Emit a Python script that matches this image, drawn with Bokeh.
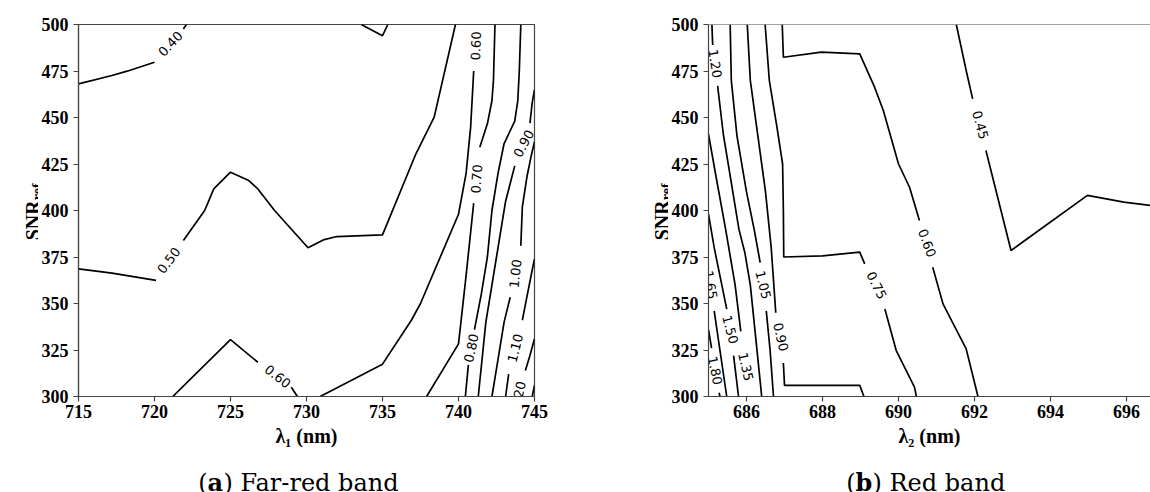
import math
from bokeh.plotting import figure
from bokeh.models import Span, ColumnDataSource, FixedTicker
from bokeh.layouts import row, column
from bokeh.embed import file_html
from bokeh.resources import INLINE
from bokeh.core.properties import value

# ---------------- (a) Far-red band : contour pieces (data units) ----------------
far_x_ticks = [715, 720, 725, 730, 735, 740, 745]
snr_ticks = [300, 325, 350, 375, 400, 425, 450, 475, 500]

far_piece_x = [
    [715.0, 717.2, 718.2, 720.0],
    [721.9, 722.1],
    [733.6, 735.0, 735.35],
    [715.0, 717.2, 720.1],
    [721.9, 723.3, 723.9, 725.0, 726.2, 726.8, 727.9, 730.1, 731.1, 732.0, 735.0, 737.2, 738.4, 739.8],
    [721.2, 725.0, 726.8],
    [729.0, 729.4],
    [730.9, 735.0, 736.9, 737.5, 740.0, 740.5, 740.8, 741.0],
    [737.9, 740.0, 740.5, 741.0],
    [741.4, 741.9, 742.2, 742.3, 742.4],
    [740.45, 740.65],
    [741.05, 741.5, 741.9, 742.2, 742.6, 743.0, 743.7, 743.9, 744.0, 744.1],
    [741.3, 741.8, 742.5, 743.1, 743.7],
    [744.7, 744.85, 745.0],
    [742.2, 742.6, 743.0, 743.4],
    [744.1, 744.2, 744.5, 744.8, 745.0],
    [743.1, 743.3],
    [744.2, 744.5, 744.8, 745.0],
    [744.4, 744.7, 745.0],
    [744.85, 745.0],
]
far_piece_y = [
    [468.1, 472.6, 474.9, 479.7],
    [497.6, 500.0],
    [500.0, 494.0, 500.0],
    [368.6, 366.3, 362.4],
    [383.9, 400.0, 411.6, 420.6, 416.1, 411.6, 400.0, 380.0, 384.2, 386.0, 386.9, 430.5, 450.2, 500.0],
    [300.0, 330.6, 318.4],
    [305.0, 300.0],
    [300.0, 317.4, 341.0, 350.0, 398.0, 420.0, 445.0, 475.0],
    [300.0, 328.3, 365.0, 404.0],
    [434.0, 446.6, 459.0, 470.0, 500.0],
    [300.0, 317.0],
    [336.0, 355.0, 375.0, 400.0, 420.0, 436.0, 448.0, 459.0, 475.0, 500.0],
    [300.0, 340.0, 375.0, 405.0, 424.0],
    [447.0, 458.0, 465.0],
    [300.0, 320.0, 340.0, 353.4],
    [381.0, 402.0, 418.0, 430.0, 437.0],
    [300.0, 312.0],
    [341.0, 353.6, 366.0, 374.0],
    [314.0, 322.0, 331.0],
    [300.0, 306.0],
]
far_label_text = ["0.40", "0.50", "0.60", "0.60", "0.70", "0.80", "0.90", "1.00", "1.10", "1.20"]
far_label_x = [721.05, 720.95, 728.1, 741.15, 741.2, 740.85, 744.3, 743.75, 743.75, 743.95]
far_label_y = [489.6, 373.1, 310.7, 488.5, 417.0, 326.0, 436.0, 366.0, 326.0, 300.5]
far_label_deg = [47, 53, -38, 88, 86, 78, 62, 84, 76, 78]

# ---------------- (b) Red band ----------------
red_x_ticks = [686, 688, 690, 692, 694, 696]

red_piece_x = [
    [685.0, 685.08],
    [685.28, 685.3],
    [685.15, 685.3, 685.48],
    [685.0, 685.15, 685.35, 685.48],
    [685.66, 685.79],
    [685.0, 685.2, 685.45, 685.7, 685.85],
    [685.09, 685.11],
    [685.24, 685.39, 685.6, 685.8, 685.96, 686.1, 686.25, 686.40],
    [685.57, 685.6, 685.75, 686.0, 686.2, 686.36],
    [686.52, 686.62, 686.71],
    [686.02, 686.1, 686.3, 686.5, 686.65, 686.77],
    [686.97, 687.0, 688.98, 689.09],
    [686.49, 686.6, 686.8, 686.95, 686.97, 686.98, 688.0, 688.98, 689.11],
    [689.64, 689.94, 690.42, 690.47],
    [686.94, 686.97, 687.97, 688.98, 689.37, 689.6, 690.0, 690.29, 690.55],
    [690.9, 691.17, 691.78, 692.09],
    [691.52, 691.78, 691.95],
    [692.3, 692.96, 694.97, 695.93, 696.64],
]
red_piece_y = [
    [336.0, 326.0],
    [302.0, 300.0],
    [346.0, 325.0, 300.0],
    [398.0, 380.0, 360.0, 347.0],
    [322.0, 300.0],
    [441.0, 418.0, 390.0, 360.0, 335.0],
    [500.0, 489.0],
    [467.0, 441.0, 415.0, 390.0, 377.0, 360.0, 330.0, 300.0],
    [500.0, 470.0, 440.0, 410.0, 390.0, 372.0],
    [346.0, 325.0, 300.0],
    [500.0, 470.0, 440.0, 410.0, 380.0, 345.0],
    [318.0, 306.0, 306.0, 300.0],
    [500.0, 470.0, 445.0, 425.0, 400.0, 375.0, 375.6, 377.6, 371.3],
    [347.0, 324.7, 305.0, 300.0],
    [500.0, 482.4, 485.1, 484.2, 466.3, 453.8, 425.0, 412.5, 394.6],
    [369.5, 349.8, 325.6, 300.0],
    [500.0, 475.3, 460.0],
    [432.3, 378.5, 408.1, 404.5, 402.7],
]
red_label_text = ["1.80", "1.65", "1.50", "1.35", "1.20", "1.05", "0.90", "0.75", "0.60", "0.45"]
red_label_x = [685.17, 685.05, 685.57, 685.98, 685.17, 686.44, 686.9, 689.42, 690.75, 692.15]
red_label_y = [314.0, 360.0, 336.0, 316.0, 479.0, 360.0, 332.0, 359.7, 382.5, 446.0]
red_label_deg = [-78, -80, -75, -77, -81, -76, -77, -63, -70, -74]

AXIS_COLOR = "#444444"
SERIF = "Liberation Serif"
CAP_FONT = "DejaVu Serif"
H_TOP = 454
BORDER_TOP, BORDER_BOTTOM = 24, 58


def style_axes(p, xticks, xlabel):
    p.xgrid.visible = False
    p.ygrid.visible = False
    p.xaxis.ticker = FixedTicker(ticks=xticks)
    p.yaxis.ticker = FixedTicker(ticks=snr_ticks)
    for ax in (p.xaxis[0], p.yaxis[0]):
        ax.axis_line_color = AXIS_COLOR
        ax.axis_line_width = 1.2
        ax.major_tick_line_color = AXIS_COLOR
        ax.major_tick_line_width = 1.2
        ax.major_tick_out = 5
        ax.major_tick_in = 0
        ax.minor_tick_line_color = None
        ax.major_label_text_font = SERIF
        ax.major_label_text_font_style = "bold"
        ax.major_label_text_font_size = "18px"
        ax.major_label_text_color = "black"
    p.xaxis.major_label_standoff = 3
    p.yaxis.major_label_standoff = 5
    p.xaxis.axis_label = xlabel
    p.xaxis.axis_label_text_font = SERIF
    p.xaxis.axis_label_text_font_style = "bold"
    p.xaxis.axis_label_text_font_size = "20px"
    p.xaxis.axis_label_text_color = "black"
    p.xaxis.axis_label_standoff = 4


def draw_contours(p, px, py, lt, lx, ly, ldeg):
    p.multi_line(xs=px, ys=py, line_color="black", line_width=1.7)
    src = ColumnDataSource(dict(x=lx, y=ly, text=lt,
                                angle=[math.radians(d) for d in ldeg]))
    p.text(x="x", y="y", text="text", angle="angle", source=src,
           text_font=value("DejaVu Sans"), text_font_size="13px",
           text_align="center", text_baseline="middle", text_color="black")


def text_panel(w, h, y_range, top=0, bottom=0):
    # blank figure used only to hold text; x in px from its left edge
    f = figure(width=w, height=h, x_range=(0, w), y_range=y_range,
               x_axis_type=None, y_axis_type=None, output_backend="svg",
               toolbar_location=None,
               min_border_left=0, min_border_right=0,
               min_border_top=top, min_border_bottom=bottom)
    f.outline_line_color = None
    f.grid.visible = False
    f.title.visible = False
    return f


def put(f, x, y, text, size, font=SERIF, bold=True, angle=0.0, align="left"):
    f.text(x=[x], y=[y], text=[text], angle=angle, text_font=value(font),
           text_font_style="bold" if bold else "normal", text_font_size=size,
           text_align=align, text_baseline="alphabetic", text_color="black")


# ---------------- main figures ----------------
p1 = figure(width=545, height=H_TOP, x_range=(715, 745), y_range=(300, 500),
            output_backend="svg", toolbar_location=None,
            min_border_left=38, min_border_right=49,
            min_border_top=BORDER_TOP, min_border_bottom=BORDER_BOTTOM)
p1.outline_line_color = AXIS_COLOR
p1.outline_line_width = 1.2
style_axes(p1, far_x_ticks, "λ₁ (nm)")
draw_contours(p1, far_piece_x, far_piece_y, far_label_text, far_label_x, far_label_y, far_label_deg)

p2 = figure(width=482, height=H_TOP, x_range=(685, 696.63), y_range=(300, 500),
            output_backend="svg", toolbar_location=None,
            min_border_left=39, min_border_right=0,
            min_border_top=BORDER_TOP, min_border_bottom=BORDER_BOTTOM)
p2.outline_line_color = None
p2.add_layout(Span(location=500, dimension="width", line_color=AXIS_COLOR, line_width=1.2))
style_axes(p2, red_x_ticks, "λ₂ (nm)")
draw_contours(p2, red_piece_x, red_piece_y, red_label_text, red_label_x, red_label_y, red_label_deg)

# ---------------- y-axis titles (SNR_ref), same vertical scale as the plots ----------------
yl1 = text_panel(38, H_TOP, (300, 500), BORDER_TOP, BORDER_BOTTOM)
put(yl1, 32, 384.0, "SNR", "20px", angle=math.pi / 2)
put(yl1, 37, 405.5, "ref", "14px", angle=math.pi / 2)

yl2 = text_panel(85, H_TOP, (300, 500), BORDER_TOP, BORDER_BOTTOM)
put(yl2, 78, 384.0, "SNR", "20px", angle=math.pi / 2)
put(yl2, 83, 405.5, "ref", "14px", angle=math.pi / 2)

# ---------------- captions ----------------
c1 = text_panel(583, 38, (0, 38))
put(c1, 207, 10, "(", "24px", font=CAP_FONT, bold=False, align="right")
put(c1, 207, 10, "a", "24px", font=CAP_FONT, bold=True)
put(c1, 223, 10, ") Far-red band", "24px", font=CAP_FONT, bold=False)

c2 = text_panel(567, 38, (0, 38))
put(c2, 272, 10, "(", "24px", font=CAP_FONT, bold=False, align="right")
put(c2, 272, 10, "b", "24px", font=CAP_FONT, bold=True)
put(c2, 289, 10, ") Red band", "24px", font=CAP_FONT, bold=False)

layout = column(row(yl1, p1, yl2, p2), row(c1, c2))
open("out.html", "w").write(file_html(layout, INLINE))
